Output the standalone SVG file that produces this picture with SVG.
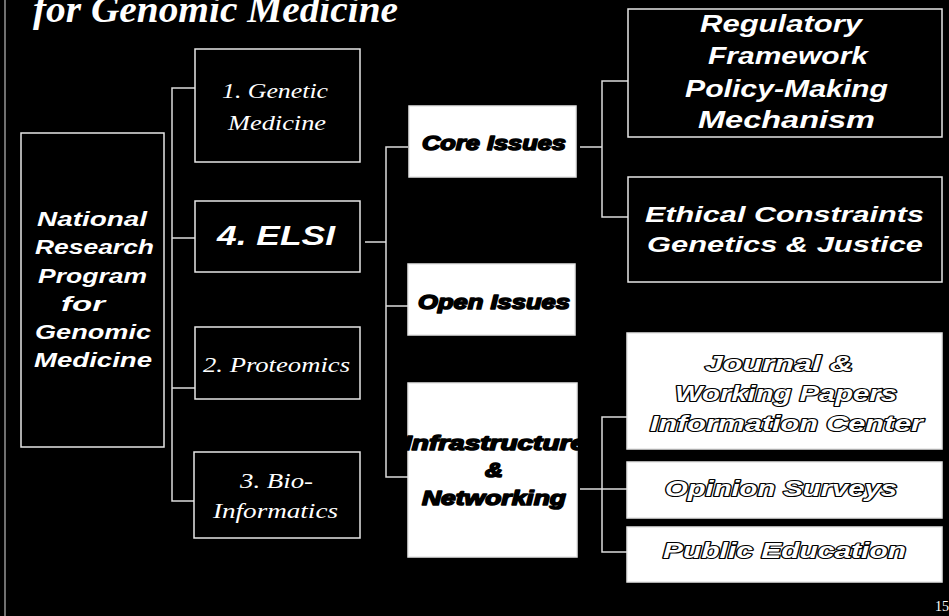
<svg xmlns="http://www.w3.org/2000/svg" width="949" height="616" viewBox="0 0 949 616">
<style>
.box{fill:#000;stroke:#e6e6e6;stroke-width:1.5}
.wbox{fill:#fff;stroke:#e6e6e6;stroke-width:1.5}
.con{fill:none;stroke:#dcdcdc;stroke-width:1.5}
.sb{font-family:"Liberation Sans",Arial,sans-serif;font-weight:bold;font-style:italic;fill:#fff;text-anchor:start}
.ser{font-family:"Liberation Serif","Times New Roman",serif;font-style:italic;fill:#fff}
.heavy{font-family:"Liberation Sans",Arial,sans-serif;font-weight:bold;font-style:italic;fill:#000;stroke:#000;stroke-width:1.6;stroke-linejoin:round}
.outl{font-family:"Liberation Sans",Arial,sans-serif;font-weight:bold;font-style:italic;fill:#fff;stroke:#000;stroke-width:2.2;paint-order:stroke;stroke-linejoin:round}
</style>
<rect width="949" height="616" fill="#000"/>
<line x1="5" y1="0" x2="5" y2="616" stroke="#bbb" stroke-width="1.2"/>
<text class="ser" x="33" y="22" font-size="37" font-weight="bold" textLength="365" lengthAdjust="spacingAndGlyphs">for Genomic Medicine</text>
<text x="935" y="611" font-family="Liberation Serif,serif" font-size="14" fill="#fff">15</text>

<g id="connectors">
<path class="con" d="M195,88 H172 V501 H195 M172,238 H195 M172,388 H195"/>
<path class="con" d="M365,242 H386 M408,147 H386 V477 H408 M386,306 H408"/>
<path class="con" d="M580,147 H602 M628,81 H602 V217 H628"/>
<path class="con" d="M580,489 H627 M627,417 H602 V552 H627"/>
</g>

<g id="national">
<rect class="box" x="21" y="133" width="143" height="314"/>
<text class="sb" font-size="21" x="37" y="226" textLength="110" lengthAdjust="spacingAndGlyphs">National</text>
<text class="sb" font-size="21" x="35" y="254" textLength="119" lengthAdjust="spacingAndGlyphs">Research</text>
<text class="sb" font-size="21" x="38" y="283" textLength="109" lengthAdjust="spacingAndGlyphs">Program</text>
<text class="sb" font-size="21" x="61" y="311" textLength="44" lengthAdjust="spacingAndGlyphs">for</text>
<text class="sb" font-size="21" x="35" y="339" textLength="116" lengthAdjust="spacingAndGlyphs">Genomic</text>
<text class="sb" font-size="21" x="34" y="367" textLength="118" lengthAdjust="spacingAndGlyphs">Medicine</text>
</g>

<g id="genetic">
<rect class="box" x="195" y="49" width="165" height="113"/>
<text class="ser" font-size="21" x="222" y="98" textLength="106" lengthAdjust="spacingAndGlyphs">1. Genetic</text>
<text class="ser" font-size="21" x="228" y="130" textLength="98" lengthAdjust="spacingAndGlyphs">Medicine</text>
</g>

<g id="elsi">
<rect class="box" x="195" y="201" width="165" height="71"/>
<text class="sb" font-size="27" x="217" y="245" textLength="118" lengthAdjust="spacingAndGlyphs">4. ELSI</text>
</g>

<g id="proteomics">
<rect class="box" x="195" y="327" width="165" height="72"/>
<text class="ser" font-size="22" x="203" y="372" textLength="147" lengthAdjust="spacingAndGlyphs">2. Proteomics</text>
</g>

<g id="bioinformatics">
<rect class="box" x="194" y="452" width="166" height="86"/>
<text class="ser" font-size="22" x="240" y="488" textLength="73" lengthAdjust="spacingAndGlyphs">3. Bio-</text>
<text class="ser" font-size="22" x="213" y="518" textLength="125" lengthAdjust="spacingAndGlyphs">Informatics</text>
</g>

<g id="core">
<rect class="wbox" x="409" y="106" width="167" height="71"/>
<text class="heavy" font-size="21" x="422" y="150" textLength="144" lengthAdjust="spacingAndGlyphs">Core Issues</text>
</g>

<g id="open">
<rect class="wbox" x="408" y="264" width="167" height="71"/>
<text class="heavy" font-size="21" x="418" y="309" textLength="152" lengthAdjust="spacingAndGlyphs">Open Issues</text>
</g>

<g id="infrastructure">
<rect class="wbox" x="408" y="383" width="169" height="174"/>
<text class="heavy" font-size="21" x="404" y="450" textLength="182" lengthAdjust="spacingAndGlyphs">Infrastructure</text>
<text class="heavy" font-size="21" x="485" y="477" textLength="18" lengthAdjust="spacingAndGlyphs">&amp;</text>
<text class="heavy" font-size="21" x="422" y="505" textLength="144" lengthAdjust="spacingAndGlyphs">Networking</text>
</g>

<g id="regulatory">
<rect class="box" x="628" y="9" width="314" height="128"/>
<text class="sb" font-size="24" x="700" y="32" textLength="162" lengthAdjust="spacingAndGlyphs">Regulatory</text>
<text class="sb" font-size="24" x="708" y="64" textLength="160" lengthAdjust="spacingAndGlyphs">Framework</text>
<text class="sb" font-size="24" x="685" y="97" textLength="203" lengthAdjust="spacingAndGlyphs">Policy-Making</text>
<text class="sb" font-size="24" x="698" y="128" textLength="177" lengthAdjust="spacingAndGlyphs">Mechanism</text>
</g>

<g id="ethical">
<rect class="box" x="628" y="177" width="314" height="105"/>
<text class="sb" font-size="22" x="645" y="222" textLength="279" lengthAdjust="spacingAndGlyphs">Ethical Constraints</text>
<text class="sb" font-size="22" x="647" y="252" textLength="276" lengthAdjust="spacingAndGlyphs">Genetics &amp; Justice</text>
</g>

<g id="journal">
<rect class="wbox" x="627" y="333" width="315" height="116"/>
<text class="outl" font-size="22" x="705" y="371" textLength="148" lengthAdjust="spacingAndGlyphs">Journal &amp;</text>
<text class="outl" font-size="22" x="675" y="401" textLength="222" lengthAdjust="spacingAndGlyphs">Working Papers</text>
<text class="outl" font-size="22" x="650" y="431" textLength="273" lengthAdjust="spacingAndGlyphs">Information Center</text>
</g>

<g id="opinion">
<rect class="wbox" x="627" y="462" width="315" height="56"/>
<text class="outl" font-size="22" x="665" y="496" textLength="232" lengthAdjust="spacingAndGlyphs">Opinion Surveys</text>
</g>

<g id="public">
<rect class="wbox" x="627" y="527" width="315" height="55"/>
<text class="outl" font-size="22" x="663" y="558" textLength="243" lengthAdjust="spacingAndGlyphs">Public Education</text>
</g>
</svg>
